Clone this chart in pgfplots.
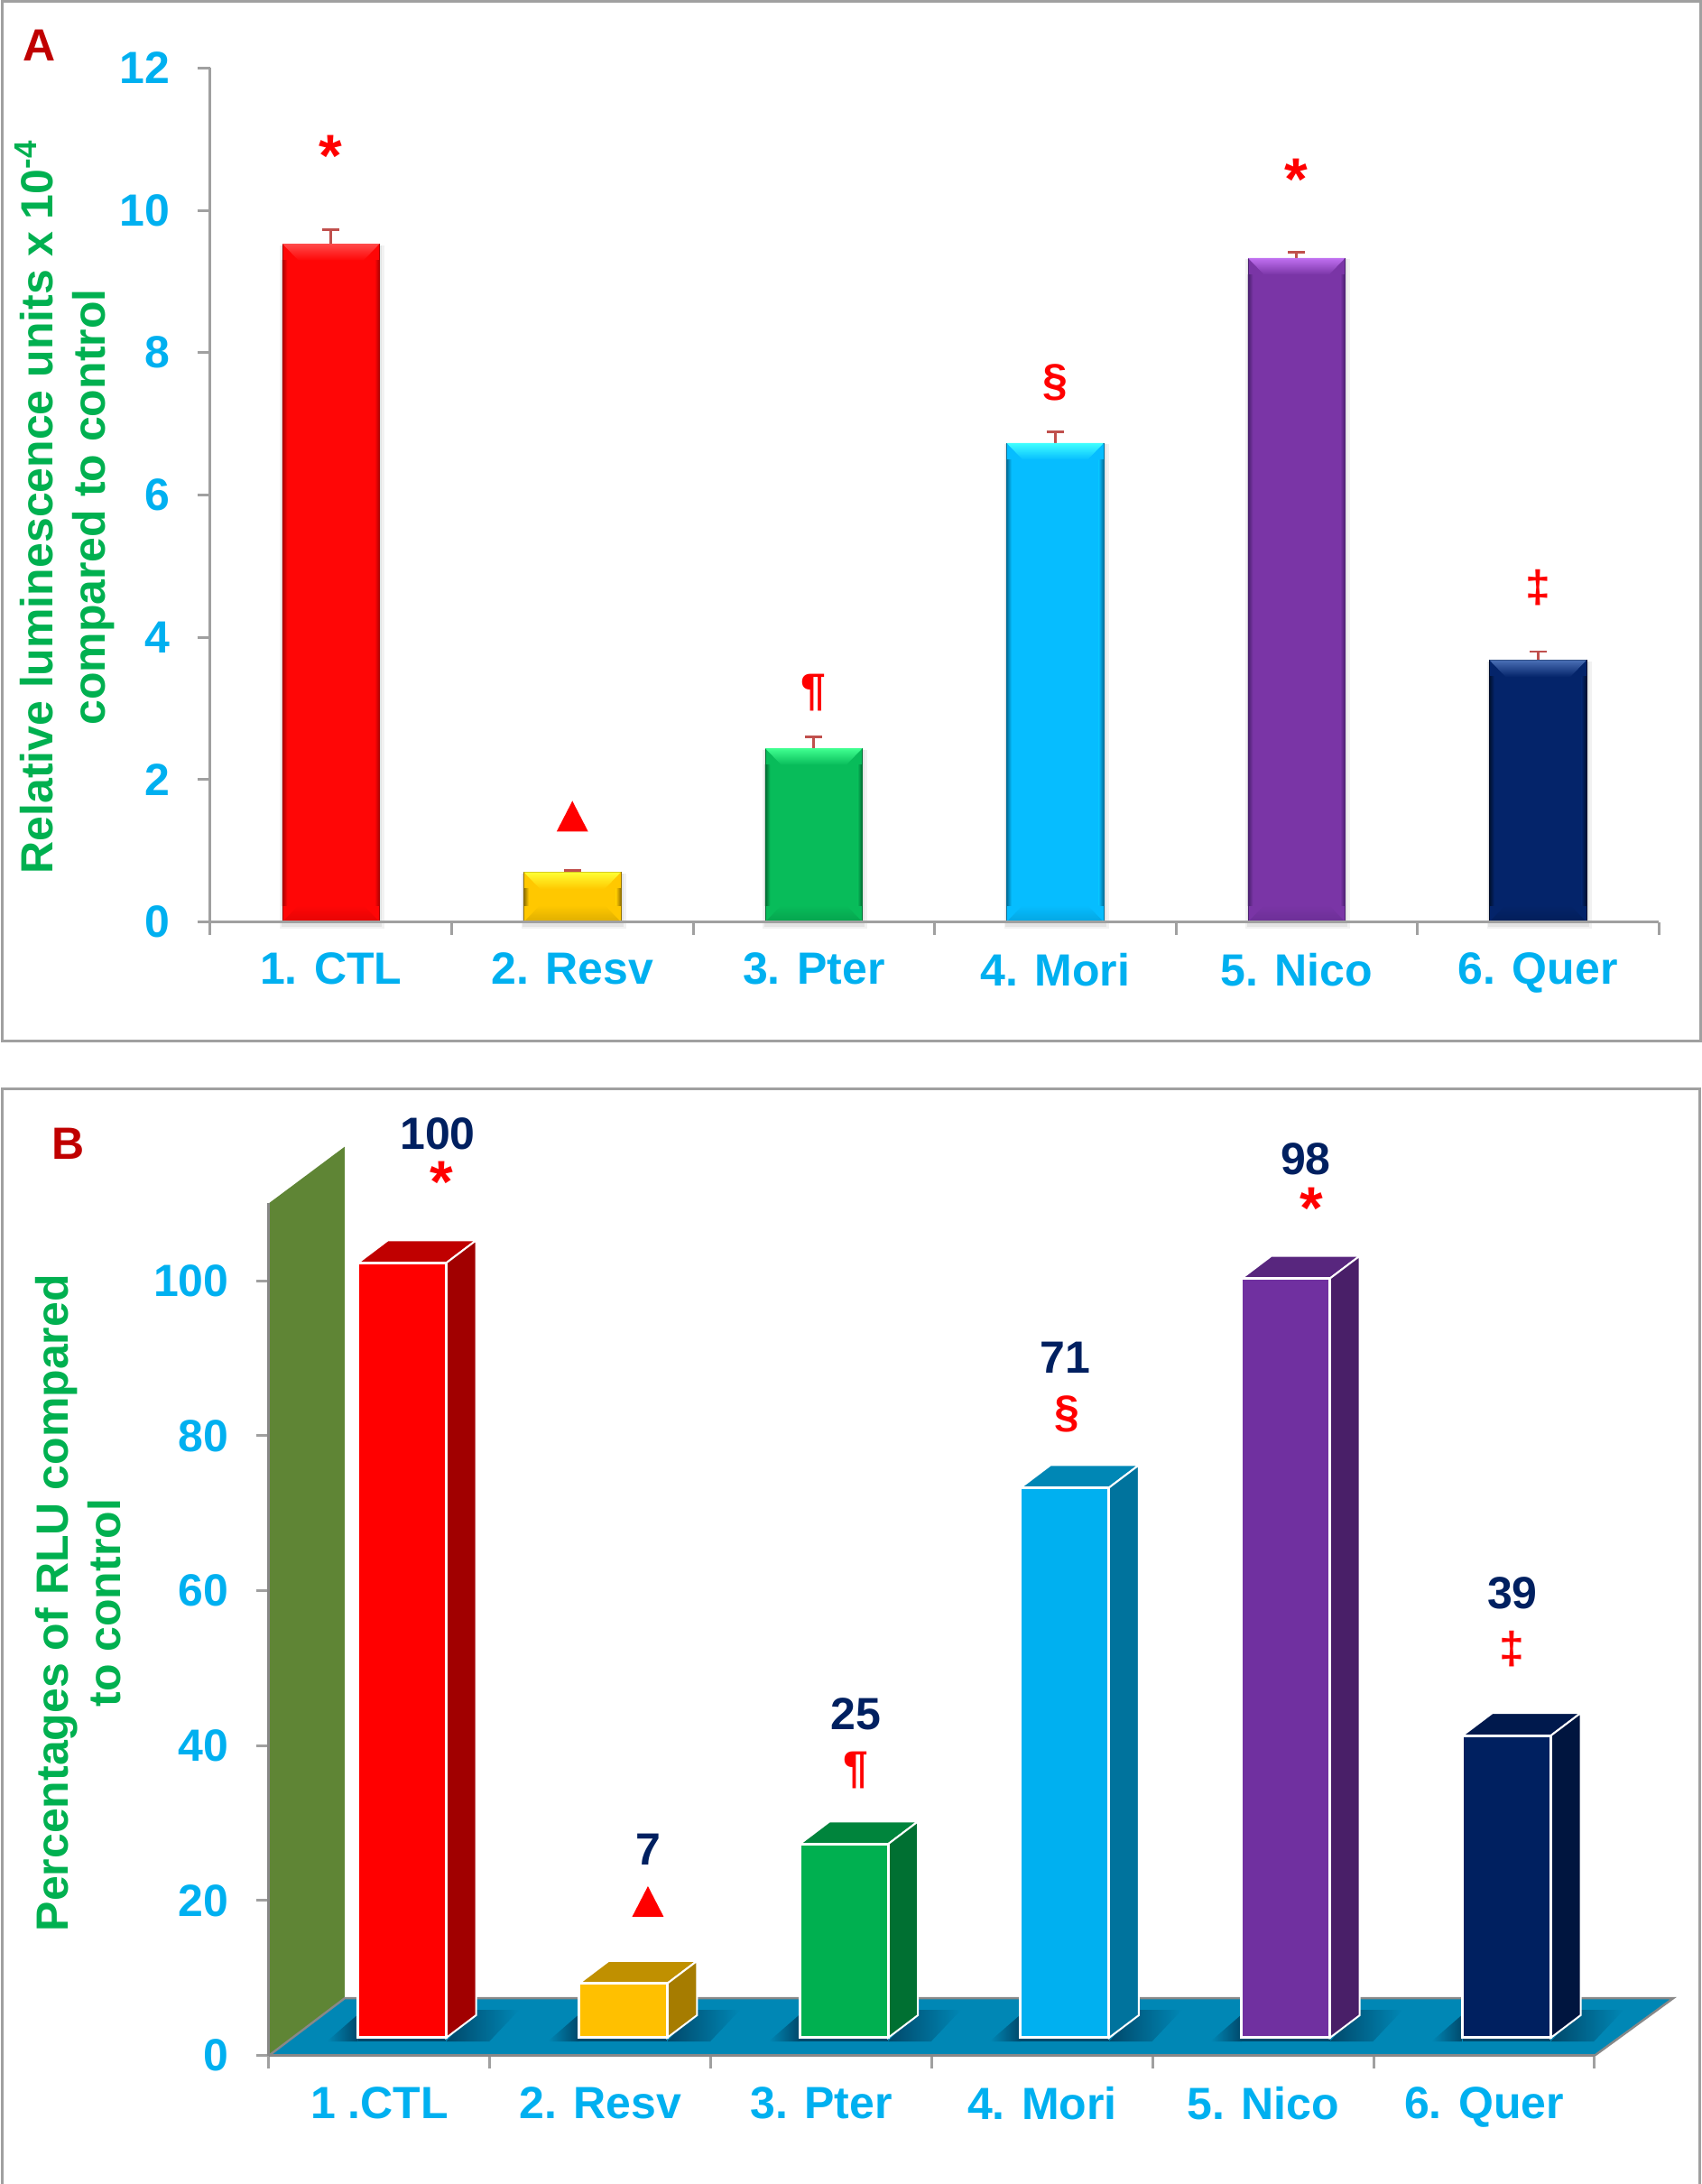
\documentclass[border=0pt]{standalone}
\usepackage{fontspec}
\setmainfont{Liberation Sans}
\usepackage{pgfplots}
\pgfplotsset{compat=1.18}
\definecolor{tk}{HTML}{00B0F0}
\definecolor{yl}{HTML}{00B050}
\definecolor{nv}{HTML}{002060}
\definecolor{lt}{HTML}{C00000}
\definecolor{ax}{HTML}{A0A0A0}
\definecolor{ec}{HTML}{C0504D}
\definecolor{fl}{HTML}{0087B5}
\definecolor{fd}{HTML}{00486A}
\definecolor{wl}{HTML}{5F8535}
% panel A colours
\definecolor{aRb}{HTML}{FF0606}\definecolor{aRl}{HTML}{FF4A4A}\definecolor{aRd}{HTML}{A80000}
\definecolor{aYb}{HTML}{FFC800}\definecolor{aYl}{HTML}{FFFF33}\definecolor{aYd}{HTML}{907000}
\definecolor{aGb}{HTML}{08BC5A}\definecolor{aGl}{HTML}{40FF90}\definecolor{aGd}{HTML}{006A30}
\definecolor{aBb}{HTML}{06BDFF}\definecolor{aBl}{HTML}{40FFFF}\definecolor{aBd}{HTML}{006F9A}
\definecolor{aPb}{HTML}{7A35A6}\definecolor{aPl}{HTML}{C070F0}\definecolor{aPd}{HTML}{4A2070}
\definecolor{aNb}{HTML}{04246A}\definecolor{aNl}{HTML}{4A6FB5}\definecolor{aNd}{HTML}{001030}
\pgfdeclareplotmark{tri}{\pgfpathmoveto{\pgfpoint{0pt}{8.5pt}}\pgfpathlineto{\pgfpoint{8.75pt}{-8.5pt}}\pgfpathlineto{\pgfpoint{-8.75pt}{-8.5pt}}\pgfpathclose\pgfusepathqfill}
\newcommand\bigfont{\bfseries\fontsize{25}{29}\selectfont}
\newcommand\astfont{\bfseries\fontsize{33}{33}\selectfont}
% a panel A bar: index, value, error, base, light, dark
\newcommand\abar[6]{%
 \pgfmathsetmacro\xa{#1-0.201}\pgfmathsetmacro\xb{#1+0.201}%
 \pgfmathsetmacro\xc{#1-0.134}\pgfmathsetmacro\xd{#1+0.134}%
 \pgfmathsetmacro\xe{#1-0.181}\pgfmathsetmacro\xf{#1+0.181}%
 \pgfmathsetmacro\yt{#2-0.235}%
 \pgfmathsetmacro\sa{#1-0.212}\pgfmathsetmacro\sb{#1+0.223}\pgfmathsetmacro\sc{#2-0.02}%
 \pgfmathsetmacro\ta{#1-0.206}\pgfmathsetmacro\tb{#1+0.212}%
 \edef\temp{%
  \noexpand\fill[black,opacity=.05] (axis cs:\sa,-0.1) rectangle (axis cs:\sb,\sc);
  \noexpand\fill[black,opacity=.06] (axis cs:\ta,-0.07) rectangle (axis cs:\tb,\sc);
  \noexpand\addplot[ybar,bar shift=0pt,bar width=0.402,fill=#4,draw=#6,line width=0.4pt,
    error bars/.cd,y dir=plus,y explicit,
    error bar style={draw=ec,line width=1.4pt},
    error mark options={rotate=90,draw=ec,line width=1.4pt,mark size=4.75pt}]
    coordinates {(#1,#2) +- (0,#3)};
  \noexpand\shade[top color=#5,bottom color=#4] (axis cs:\xa,#2)--(axis cs:\xb,#2)--(axis cs:\xd,\yt)--(axis cs:\xc,\yt)--cycle;
  \noexpand\shade[top color=#4,bottom color=#4!70!#6] (axis cs:\xa,0)--(axis cs:\xb,0)--(axis cs:\xd,0.235)--(axis cs:\xc,0.235)--cycle;
  \noexpand\shade[left color=#6,right color=#4] (axis cs:\xa,\yt) rectangle (axis cs:\xe,0.235);
  \noexpand\shade[left color=#4,right color=#6] (axis cs:\xf,\yt) rectangle (axis cs:\xb,0.235);
 }\temp}
% floor shadow of a panel B bar
\newcommand\bshadow[1]{%
 \pgfmathsetmacro\xa{#1-0.34}\pgfmathsetmacro\xb{#1-0.2}\pgfmathsetmacro\xc{#1+0.2}%
 \pgfmathsetmacro\xd{#1+0.335}\pgfmathsetmacro\xe{#1+0.53}\pgfmathsetmacro\xf{#1+0.395}%
 \edef\temp{%
  \noexpand\shade[left color=fl,right color=fd] (axis cs:\xa,-0.47)--(axis cs:\xb,-0.47)--(axis cs:\xb,3)--cycle;
  \noexpand\fill[fd] (axis cs:\xb,-0.47) rectangle (axis cs:\xc,1);
  \noexpand\shade[left color=fd,right color=fl] (axis cs:\xc,-0.47)--(axis cs:\xd,3.6)--(axis cs:\xe,3.6)--(axis cs:\xf,-0.47)--cycle;
 }\temp}
\begin{document}
\begin{tikzpicture}
\useasboundingbox (0pt,0pt) rectangle (942.5pt,1210pt);
\fill[white] (0pt,0pt) rectangle (942.5pt,1210pt);
\draw[color=ax,line width=1.5pt] (1pt,633pt) rectangle (942pt,1209.25pt);
\draw[color=ax,line width=1.5pt] (1pt,0pt)--(1pt,606.5pt)--(941.5pt,606.5pt)--(941.5pt,0pt);
\node[text=lt,font=\bigfont,inner sep=0pt] at (22pt,1185pt) {A};
\node[text=lt,font=\bigfont,inner sep=0pt] at (38pt,576.5pt) {B};

% ---------- Panel A
\begin{axis}[at={(116.5pt,699.2pt)},anchor=south west,scale only axis,
  width=802.5pt,height=473.1pt,xmin=0.5,xmax=6.5,ymin=0,ymax=12,clip=false,
  axis x line*=bottom,axis y line*=left,axis on top,
  axis line style={draw=ax,line width=1.5pt,-},
  tick align=outside,major tick length=7pt,minor tick length=7pt,
  xtick={1,...,6},xticklabels={1. CTL,2. Resv,3. Pter,4. Mori,5. Nico,6. Quer},
  minor xtick={0.5,1.5,2.5,3.5,4.5,5.5,6.5},
  major x tick style={draw=none},
  minor x tick style={draw=ax,line width=1.5pt},
  major y tick style={draw=ax,line width=1.5pt},
  ytick={0,2,...,12},
  xticklabel style={font=\bigfont,text=tk,inner sep=0pt,yshift=-10pt},
  yticklabel style={font=\bigfont,text=tk,inner sep=0pt,xshift=-15pt,/pgf/number format/assume math mode=true},
  ylabel={Relative luminescence units x 10\textsuperscript{-4}\\compared to control},
  ylabel style={at={(rel axis cs:-0.1003,0.4857)},anchor=center,rotate=0,align=center,font=\bigfont,text=yl,inner sep=0pt},
]
\abar{1}{9.53}{0.20}{aRb}{aRl}{aRd}
\abar{2}{0.70}{0.02}{aYb}{aYl}{aYd}
\abar{3}{2.44}{0.16}{aGb}{aGl}{aGd}
\abar{4}{6.73}{0.16}{aBb}{aBl}{aBd}
\abar{5}{9.33}{0.08}{aPb}{aPl}{aPd}
\abar{6}{3.68}{0.12}{aNb}{aNl}{aNd}
\node[text=red,font=\astfont,inner sep=0pt] at (axis cs:1,10.77) {*};
\addplot[only marks,mark=tri,red] coordinates {(2,1.485)};
\node[text=red,font=\bigfont,inner sep=0pt] at (axis cs:3,3.216) {¶};
\node[text=red,font=\bigfont,inner sep=0pt] at (axis cs:4,7.58) {§};
\node[text=red,font=\astfont,inner sep=0pt] at (axis cs:5,10.43) {*};
\node[text=red,font=\bigfont,inner sep=0pt] at (axis cs:6,4.70) {‡};
\end{axis}

% ---------- Panel B, wall, floor and scales
\begin{axis}[at={(149pt,71.15pt)},anchor=south west,scale only axis,
  width=734.5pt,height=472.2pt,xmin=0.5,xmax=6.5,ymin=0,ymax=110,clip=false,
  axis x line*=bottom,axis y line*=left,axis on top,
  axis line style={draw=ax!85!black,line width=1.5pt,-},
  tick align=outside,major tick length=7pt,minor tick length=7pt,
  xtick={1,...,6},xticklabels={1 .CTL,2. Resv,3. Pter,4. Mori,5. Nico,6. Quer},
  minor xtick={0.5,1.5,2.5,3.5,4.5,5.5,6.5},
  major x tick style={draw=none},
  minor x tick style={draw=ax,line width=1.5pt},
  major y tick style={draw=ax,line width=1.5pt},
  ytick={0,20,...,100},
  xticklabel style={font=\bigfont,text=tk,inner sep=0pt,yshift=-10pt},
  yticklabel style={font=\bigfont,text=tk,inner sep=0pt,xshift=-15pt,/pgf/number format/assume math mode=true},
  ylabel={Percentages of RLU compared\\to control},
  ylabel style={at={(rel axis cs:-0.1436,0.531)},anchor=center,rotate=0,align=center,font=\bigfont,text=yl,inner sep=0pt},
]
\addplot[fill=wl,draw=none] coordinates {(0.5,0)(0.843,7.4)(0.843,117.3)(0.5,110)} --cycle;
\addplot[fill=fl,draw=ax!85!black,line width=1.2pt] coordinates {(0.5,0)(0.843,7.4)(6.856,7.4)(6.5,0)} --cycle;
\end{axis}

% ---------- Panel B, bars
\begin{axis}[at={(161.55pt,81pt)},anchor=south west,scale only axis,hide axis,
  width=734.4pt,height=472.2pt,xmin=0.5,xmax=6.5,ymin=0,ymax=110,clip=false]
\bshadow{1}\bshadow{2}\bshadow{3}\bshadow{4}\bshadow{5}\bshadow{6}
% 1. CTL
\addplot[fill=lt,draw=white,line width=1pt] coordinates {(0.8,100)(0.935,102.91)(1.335,102.91)(1.2,100)} --cycle;
\addplot[fill=black!0!red!63!black,draw=white,line width=1pt] coordinates {(1.2,0)(1.335,2.91)(1.335,102.91)(1.2,100)} --cycle;
\addplot[ybar,bar shift=0pt,bar width=0.4,fill=red,draw=white,line width=1.5pt] coordinates {(1,100)};
% 2. Resv
\addplot[fill={rgb,255:red,192;green,144;blue,0},draw=white,line width=1pt] coordinates {(1.8,7)(1.935,9.91)(2.335,9.91)(2.2,7)} --cycle;
\addplot[fill={rgb,255:red,166;green,124;blue,0},draw=white,line width=1pt] coordinates {(2.2,0)(2.335,2.91)(2.335,9.91)(2.2,7)} --cycle;
\addplot[ybar,bar shift=0pt,bar width=0.4,fill={rgb,255:red,255;green,192;blue,0},draw=white,line width=1.5pt] coordinates {(2,7)};
% 3. Pter
\addplot[fill={rgb,255:red,0;green,132;blue,60},draw=white,line width=1pt] coordinates {(2.8,25)(2.935,27.91)(3.335,27.91)(3.2,25)} --cycle;
\addplot[fill={rgb,255:red,0;green,112;blue,50},draw=white,line width=1pt] coordinates {(3.2,0)(3.335,2.91)(3.335,27.91)(3.2,25)} --cycle;
\addplot[ybar,bar shift=0pt,bar width=0.4,fill=yl,draw=white,line width=1.5pt] coordinates {(3,25)};
% 4. Mori
\addplot[fill=fl,draw=white,line width=1pt] coordinates {(3.8,71)(3.935,73.91)(4.335,73.91)(4.2,71)} --cycle;
\addplot[fill={rgb,255:red,0;green,115;blue,157},draw=white,line width=1pt] coordinates {(4.2,0)(4.335,2.91)(4.335,73.91)(4.2,71)} --cycle;
\addplot[ybar,bar shift=0pt,bar width=0.4,fill=tk,draw=white,line width=1.5pt] coordinates {(4,71)};
% 5. Nico
\addplot[fill={rgb,255:red,88;green,38;blue,126},draw=white,line width=1pt] coordinates {(4.8,98)(4.935,100.91)(5.335,100.91)(5.2,98)} --cycle;
\addplot[fill={rgb,255:red,73;green,31;blue,104},draw=white,line width=1pt] coordinates {(5.2,0)(5.335,2.91)(5.335,100.91)(5.2,98)} --cycle;
\addplot[ybar,bar shift=0pt,bar width=0.4,fill={rgb,255:red,112;green,48;blue,160},draw=white,line width=1.5pt] coordinates {(5,98)};
% 6. Quer
\addplot[fill={rgb,255:red,0;green,25;blue,77},draw=white,line width=1pt] coordinates {(5.8,39)(5.935,41.91)(6.335,41.91)(6.2,39)} --cycle;
\addplot[fill={rgb,255:red,0;green,21;blue,63},draw=white,line width=1pt] coordinates {(6.2,0)(6.335,2.91)(6.335,41.91)(6.2,39)} --cycle;
\addplot[ybar,bar shift=0pt,bar width=0.4,fill=nv,draw=white,line width=1.5pt] coordinates {(6,39)};
% labels
\node[text=nv,font=\bigfont,inner sep=0pt] at (axis cs:1.161,116.66) {100};
\node[text=red,font=\astfont,inner sep=0pt] at (axis cs:1.180,110.4) {*};
\node[text=nv,font=\bigfont,inner sep=0pt] at (axis cs:2.113,24.34) {7};
\addplot[only marks,mark=tri,red] coordinates {(2.113,17.59)};
\node[text=nv,font=\bigfont,inner sep=0pt] at (axis cs:3.053,41.76) {25};
\node[text=red,font=\bigfont,inner sep=0pt] at (axis cs:3.053,34.54) {¶};
\node[text=nv,font=\bigfont,inner sep=0pt] at (axis cs:4.003,87.77) {71};
\node[text=red,font=\bigfont,inner sep=0pt] at (axis cs:4.011,80.49) {§};
\node[text=nv,font=\bigfont,inner sep=0pt] at (axis cs:5.091,113.45) {98};
\node[text=red,font=\astfont,inner sep=0pt] at (axis cs:5.116,107.05) {*};
\node[text=nv,font=\bigfont,inner sep=0pt] at (axis cs:6.026,57.43) {39};
\node[text=red,font=\bigfont,inner sep=0pt] at (axis cs:6.026,50.2) {‡};
\end{axis}
\end{tikzpicture}
\end{document}
